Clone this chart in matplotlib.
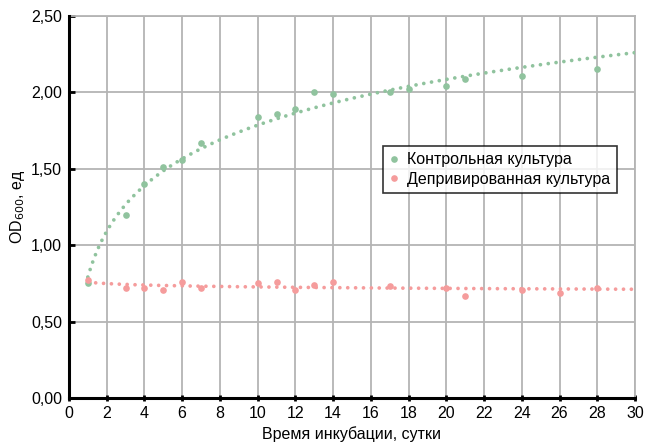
import numpy as np
import matplotlib
matplotlib.use('Agg')
import matplotlib.pyplot as plt
from matplotlib.ticker import FuncFormatter

plt.rcParams['font.family'] = ['Liberation Sans', 'DejaVu Sans']

# Контрольная культура (measured points)
days_ctrl = [1, 3, 4, 5, 6, 7, 10, 11, 12, 13, 14, 17, 18, 20, 21, 24, 28]
od_ctrl = [0.75, 1.20, 1.40, 1.51, 1.56, 1.67, 1.84, 1.86, 1.89, 2.00, 1.99,
           2.00, 2.02, 2.04, 2.09, 2.11, 2.15]

# Депривированная культура (measured points)
days_depr = [1, 3, 4, 5, 6, 7, 10, 11, 12, 13, 14, 17, 20, 21, 24, 26, 28]
od_depr = [0.77, 0.72, 0.72, 0.71, 0.76, 0.72, 0.75, 0.76, 0.71, 0.74, 0.76,
           0.73, 0.72, 0.67, 0.71, 0.69, 0.72]

labels = ['Контрольная культура', 'Депривированная культура']
green = '#90c39e'
pink = '#f59c9c'
fs = 11.5

fig = plt.figure(figsize=(6.55, 4.47), dpi=100)
ax = fig.add_axes([0.1053, 0.1096, 0.8642, 0.8546])

# logarithmic trend lines fitted to the data (like Excel)
xs = np.linspace(1, 30, 300)
for d, v, c in [(days_ctrl, od_ctrl, green), (days_depr, od_depr, pink)]:
    b, a = np.polyfit(np.log(d), v, 1)
    ax.plot(xs, a + b * np.log(xs), color=c, lw=2.7,
            linestyle=(0, (0.001, 2.1)), dash_capstyle='round', zorder=3)

ax.plot(days_ctrl, od_ctrl, 'o', color=green, ms=4.8, mec='none',
        label=labels[0], zorder=4)
ax.plot(days_depr, od_depr, 'o', color=pink, ms=4.8, mec='none',
        label=labels[1], zorder=4)

ax.set_xlim(0, 30)
ax.set_ylim(0, 2.5)
ax.set_xticks(range(0, 31, 2))
ax.set_yticks(np.arange(0, 2.51, 0.5))
ax.yaxis.set_major_formatter(FuncFormatter(lambda v, p: f'{v:.2f}'.replace('.', ',')))

ax.grid(True, color='#b4b4b4', lw=1.3)
ax.set_axisbelow(True)
for s in ['top', 'right']:
    ax.spines[s].set_color('#b4b4b4')
    ax.spines[s].set_linewidth(1.3)
for s in ['left', 'bottom']:
    ax.spines[s].set_color('black')
    ax.spines[s].set_linewidth(2.2)
    ax.spines[s].set_zorder(5)

ax.tick_params(axis='x', direction='inout', length=5, width=2, labelsize=fs, pad=3)
ax.tick_params(axis='y', direction='in', length=4, width=2, labelsize=fs, pad=5)

ax.set_xlabel('Время инкубации, сутки', fontsize=fs, labelpad=4)
ax.set_ylabel('OD$_{600}$, ед', fontsize=fs, labelpad=3)

leg = ax.legend(loc='upper left', bbox_to_anchor=(0.555, 0.66), borderaxespad=0,
                fontsize=fs, frameon=True, fancybox=False, handlelength=0.6,
                handletextpad=0.5, borderpad=0.4, labelspacing=0.3, markerscale=1.0)
leg.get_frame().set_edgecolor('black')
leg.get_frame().set_linewidth(1.2)

fig.savefig('out.png', dpi=100)
